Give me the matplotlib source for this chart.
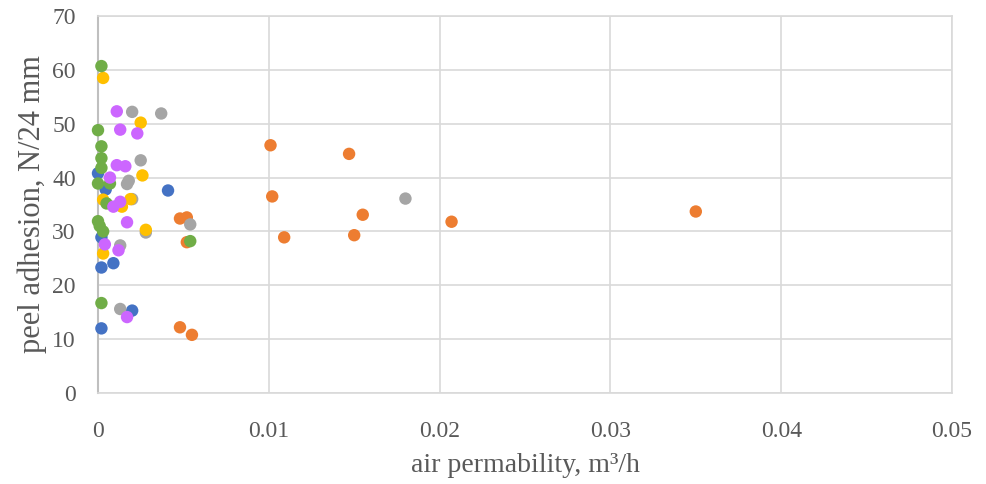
import matplotlib
matplotlib.use("Agg")
import matplotlib.pyplot as plt

plt.rcParams["font.family"] = ["Liberation Serif", "DejaVu Serif"]

# Series values (air permeability m3/h, peel adhesion N/24 mm)
blue_x = [0.0000, 0.00045, 0.0041, 0.0002, 0.0002, 0.0009, 0.0020, 0.0002]
blue_y = [40.8, 37.8, 37.6, 28.9, 23.3, 24.1, 15.3, 12.0]

orange_x = [0.0101, 0.0102, 0.0109, 0.0147, 0.0150, 0.0155, 0.0207, 0.0350,
            0.0048, 0.0052, 0.0052, 0.0048, 0.0055]
orange_y = [46.0, 36.5, 28.9, 44.4, 29.3, 33.1, 31.8, 33.7,
            32.4, 32.6, 28.0, 12.2, 10.8]

gray_x = [0.0020, 0.0037, 0.0025, 0.0017, 0.0018, 0.0020, 0.0054, 0.0028,
          0.0013, 0.0013, 0.0180]
gray_y = [52.2, 51.9, 43.2, 38.8, 39.4, 36.0, 31.3, 29.8,
          27.4, 15.6, 36.1]

yellow_x = [0.0003, 0.0025, 0.0026, 0.0003, 0.0019, 0.0014, 0.0028, 0.0003]
yellow_y = [58.5, 50.2, 40.4, 35.9, 36.0, 34.6, 30.3, 25.9]

green_x = [0.0002, 0.0000, 0.0002, 0.0002, 0.0002, 0.0000, 0.0007, 0.0005,
           0.0000, 0.0001, 0.0003, 0.0054, 0.0002]
green_y = [60.7, 48.8, 45.8, 43.6, 41.8, 38.9, 38.9, 35.2,
           31.9, 31.0, 30.0, 28.2, 16.7]

purple_x = [0.0011, 0.0013, 0.0023, 0.0011, 0.0016, 0.0007, 0.0009, 0.0013,
            0.0017, 0.0004, 0.0012, 0.0017]
purple_y = [52.3, 48.9, 48.2, 42.3, 42.1, 40.0, 34.6, 35.5,
            31.7, 27.6, 26.5, 14.1]

x_ticks = [0, 0.01, 0.02, 0.03, 0.04, 0.05]
x_tick_labels = ["0", "0.01", "0.02", "0.03", "0.04", "0.05"]
y_ticks = [0, 10, 20, 30, 40, 50, 60, 70]

series = [
    (blue_x, blue_y, "#4472C4"),
    (orange_x, orange_y, "#ED7D31"),
    (gray_x, gray_y, "#A5A5A5"),
    (yellow_x, yellow_y, "#FFC000"),
    (green_x, green_y, "#70AD47"),
    (purple_x, purple_y, "#CC66FF"),
]

fig = plt.figure(figsize=(9.87, 4.84), dpi=100)
ax = fig.add_axes([98 / 987, 1 - 393 / 484, (952 - 98) / 987, (393 - 16) / 484])

for xs, ys, color in series:
    ax.scatter(xs, ys, s=80, color=color, edgecolors="none", zorder=3, clip_on=False)

ax.set_xlim(0, 0.05)
ax.set_ylim(0, 70)
ax.set_xticks(x_ticks)
ax.set_xticklabels(x_tick_labels)
ax.set_yticks(y_ticks)
ax.grid(True, color="#D9D9D9", linewidth=1.2, zorder=0)
ax.set_axisbelow(True)

for side in ["top", "right", "bottom"]:
    ax.spines[side].set_color("#D9D9D9")
    ax.spines[side].set_linewidth(1.2)
ax.spines["left"].set_color("#BFBFBF")
ax.spines["left"].set_linewidth(1.5)

ax.tick_params(length=0, labelsize=17, colors="#595959")
ax.tick_params(axis="x", pad=20)
ax.tick_params(axis="y", pad=16)
ax.set_xlabel("air permability, m³/h", fontsize=20, color="#595959", labelpad=8)
ax.set_ylabel("peel adhesion, N/24 mm", fontsize=22, color="#595959", labelpad=4)

fig.savefig("out.png", dpi=100)
